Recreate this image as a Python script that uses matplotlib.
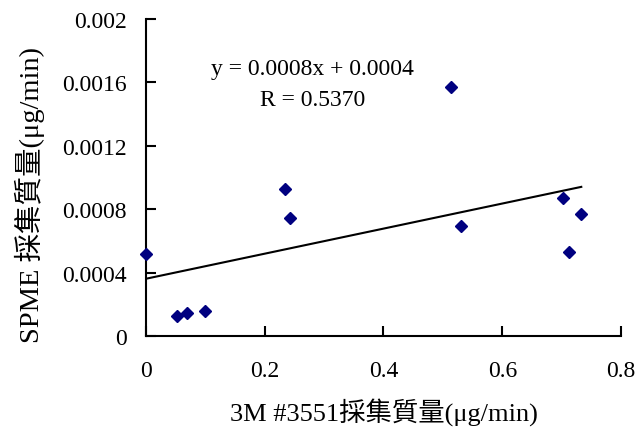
import numpy as np
import matplotlib
matplotlib.use("Agg")
import matplotlib.pyplot as plt

plt.rcParams['font.family'] = ['Liberation Serif', 'Noto Sans CJK TC']

# 3M #3551 vs SPME sampled mass (ug/min)
m3551 = [0.0, 0.052, 0.070, 0.100, 0.234, 0.243, 0.514, 0.531, 0.702, 0.712, 0.733]
spme = [0.000515, 0.000125, 0.000148, 0.000161, 0.000931, 0.000742,
        0.001574, 0.000692, 0.000868, 0.00053, 0.00077]
x_ticks = [0, 0.2, 0.4, 0.6, 0.8]
x_labels = ["0", "0.2", "0.4", "0.6", "0.8"]
y_ticks = [0, 0.0004, 0.0008, 0.0012, 0.0016, 0.002]
y_labels = ["0", "0.0004", "0.0008", "0.0012", "0.0016", "0.002"]

fig = plt.figure(figsize=(6.37, 4.35), dpi=100)
ax = fig.add_axes([0.229, 0.225, 0.746, 0.729])

ax.plot(m3551, spme, "D", color="#000080", markersize=6, clip_on=False, zorder=3)

# linear trendline
z = np.polyfit(m3551, spme, 1)
p = np.poly1d(z)
xs = np.array([0, max(m3551)])
ax.plot(xs, p(xs), "k-", linewidth=1.5)

ax.set_xlim(0, 0.8)
ax.set_ylim(0, 0.002)
ax.set_xticks(x_ticks)
ax.set_xticklabels(x_labels)
ax.set_yticks(y_ticks)
ax.set_yticklabels(y_labels)
ax.tick_params(direction="in", length=7, width=1.5, labelsize=17, pad=14)
ax.tick_params(axis="x", pad=17)
for s in ["top", "right"]:
    ax.spines[s].set_visible(False)
for s in ["left", "bottom"]:
    ax.spines[s].set_linewidth(1.5)

ax.set_xlabel("3M #3551採集質量(μg/min)", fontsize=19, labelpad=12)
ax.set_ylabel("SPME 採集質量(μg/min)", fontsize=20.5)
ax.yaxis.set_label_coords(-0.213, 0.448)

ax.text(0.2804, 0.00169, "y = 0.0008x + 0.0004", fontsize=17, ha="center", va="center")
ax.text(0.2804, 0.00149, "R = 0.5370", fontsize=17, ha="center", va="center")

fig.savefig("out.png", dpi=100)
